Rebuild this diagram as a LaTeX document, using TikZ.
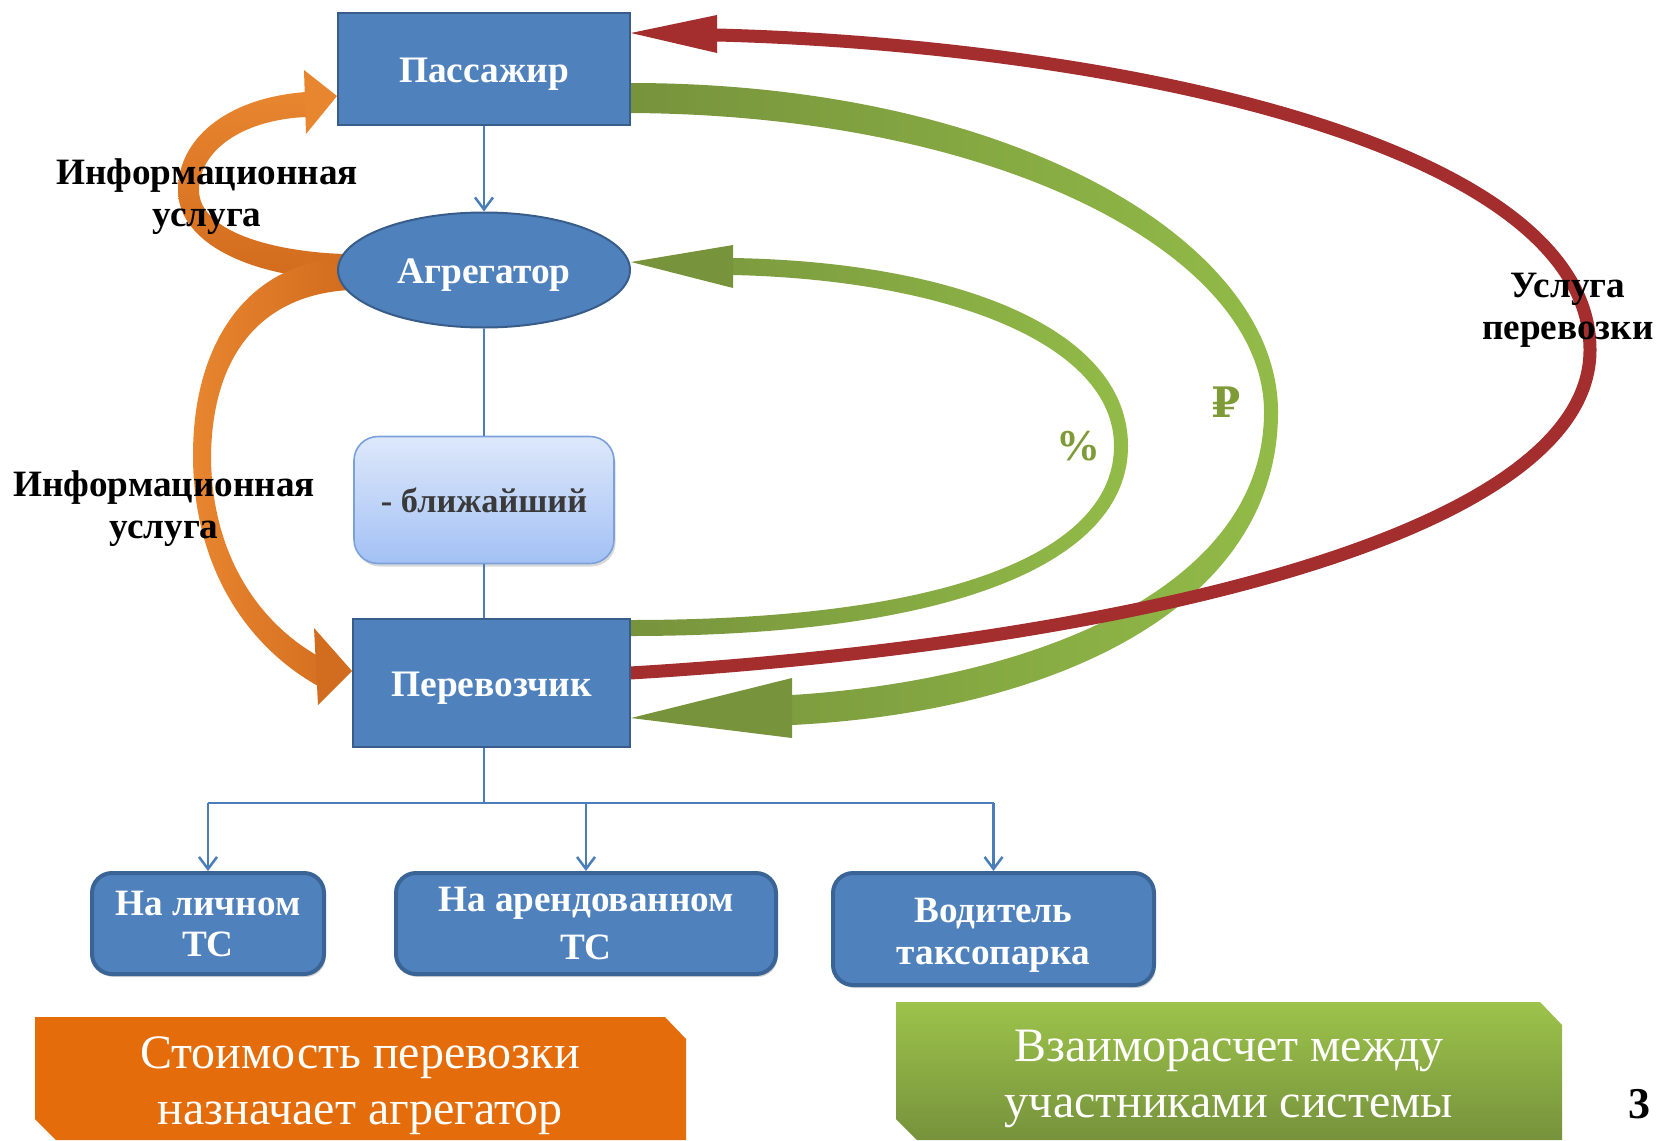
\documentclass[tikz,border=0pt]{standalone}
\usepackage{fontspec}
\setmainfont{Liberation Serif}
\newfontfamily\symfont{DejaVu Serif}
\usetikzlibrary{arrows.meta,shapes.geometric,shadows}
\pgfdeclarelayer{bg}
\pgfsetlayers{bg,main}
\definecolor{boxblue}{HTML}{4F81BD}
\definecolor{boxedge}{HTML}{385D8A}
\definecolor{leafedge}{HTML}{3A6496}
\definecolor{linkblue}{HTML}{4A7EBB}
\definecolor{arrred}{HTML}{A42D2D}
\definecolor{grdark}{HTML}{77933C}
\definecolor{grlight}{HTML}{92BB48}
\definecolor{orlight}{HTML}{E8852F}
\definecolor{ordark}{HTML}{D26C1E}
\definecolor{banorange}{HTML}{E46C0A}
\definecolor{bangrtop}{HTML}{9DC34B}
\definecolor{bangrbot}{HTML}{76923C}
\definecolor{lbtop}{HTML}{DDE8FA}
\definecolor{lbbot}{HTML}{A3C1F5}
\definecolor{lbedge}{HTML}{7BA0DA}
\definecolor{symgreen}{HTML}{7E9B38}
\definecolor{neartext}{HTML}{3A3A3A}
\tikzset{
  mainbox/.style={draw=boxedge, line width=1pt, fill=boxblue, text=white,
    font=\fontsize{18.7}{21}\selectfont\bfseries, inner sep=0pt, align=center,
    text height=13.2pt, text depth=0pt},
  ellbox/.style={mainbox, ellipse},
  nearbox/.style={draw=lbedge, line width=0.8pt, top color=lbtop, bottom color=lbbot,
    rounded corners=12pt, text=neartext, font=\fontsize{17.2}{20}\selectfont\bfseries,
    inner sep=0pt, drop shadow={shadow xshift=0.8pt, shadow yshift=-1.5pt, opacity=0.3}},
  leafbox/.style={draw=leafedge, line width=2pt, fill=boxblue, rounded corners=10pt,
    text=white, inner sep=0pt, align=center,
    drop shadow={shadow xshift=0.8pt, shadow yshift=-1.5pt, opacity=0.35}},
  link/.style={draw=linkblue, line width=1.25pt},
  linkarrow/.style={link, -{Straight Barb[length=6pt,width=9pt]}},
  lab/.style={font=\fontsize{18.6}{21}\selectfont\bfseries, align=center, inner sep=0pt},
  bantext/.style={text=white, font=\fontsize{24}{28}\selectfont, align=center, inner sep=0pt},
  sym/.style={text=symgreen, inner sep=0pt},
  redband/.style={draw=arrred, line width=6.5pt},
}
\begin{document}
\begin{tikzpicture}[x=0.5pt,y=-0.5pt]
\useasboundingbox (0,0) rectangle (1657,1140);

% main nodes
\node[mainbox, minimum width=146pt, minimum height=56pt] (pas) at (484,69) {Пассажир};
\node[ellbox, minimum width=146pt, minimum height=57.5pt] (agg) at (484,270) {Агрегатор};
\node[nearbox, minimum width=130pt, minimum height=63.5pt] (near) at (484,500) {- ближайший};
\node[mainbox, minimum width=138.5pt, minimum height=64pt] (car) at (491.5,683) {Перевозчик};

% leaf boxes
\node[leafbox, minimum width=116pt, minimum height=50.5pt,
  font=\fontsize{18.6}{20.5}\selectfont\bfseries] (b1) at (208,923.5) {На личном\\ТС};
\node[leafbox, minimum width=190pt, minimum height=50.5pt,
  font=\fontsize{18.6}{24}\selectfont\bfseries] (b2) at (586,923.5) {На арендованном\\ТС};
\node[leafbox, minimum width=160.5pt, minimum height=56pt,
  font=\fontsize{18.6}{21}\selectfont\bfseries] (b3) at (993.5,929) {\rule{0pt}{18.5pt}Водитель\\таксопарка};

% connectors
\coordinate (bus) at (484,803);
\draw[linkarrow] (pas.south) -- (agg.north);
\draw[link] (agg.south) -- (near.north);
\draw[link] (near.south) -- (near.south |- car.north);
\draw[link] (near.south |- car.south) -- (bus);
\draw[link] (b1.north |- bus) -- (b3.north |- bus);
\draw[linkarrow] (b1.north |- bus) -- (b1.north);
\draw[linkarrow] (b2.north |- bus) -- (b2.north);
\draw[linkarrow] (b3.north |- bus) -- (b3.north);

% labels
\node[lab] (lab1) at (207,197) {Информационная\\услуга};
\node[lab] (lab2) at (164,509) {Информационная\\услуга};
\node[lab] (lab3) at (1568,310) {Услуга\\перевозки};
\node[sym, font=\fontsize{22}{24}\selectfont\bfseries] (pct) at (1078,446) {\%};
\node[sym, font=\fontsize{21}{24}\selectfont\bfseries\symfont] (rub) at (1226,402) {₽};
\node[font=\fontsize{22}{24}\selectfont\bfseries, inner sep=0pt] (pg) at (1639,1104) {3};

% curved block arrows (behind nodes)
\begin{pgfonlayer}{bg}
  % orange upper: Агрегатор -> Пассажир
  \shade[top color=orlight, bottom color=ordark]
    (306,92) .. controls (225,98) and (178,140) .. (178,190)
    .. controls (178,245) and (255,278) .. (345,280)
    -- (345,254) .. controls (275,252) and (199,232) .. (199,190)
    .. controls (199,152) and (240,120) .. (306,117) -- cycle;
  \fill[orlight] (pas.west |- 0,96) -- (304,70) -- (306,134) -- cycle;
  % orange lower: Агрегатор -> Перевозчик
  \shade[left color=orlight, right color=ordark]
    (345,258) .. controls (250,262) and (193,340) .. (193,455)
    .. controls (193,565) and (245,645) .. (318,686)
    -- (318,656) .. controls (255,620) and (211,550) .. (211,455)
    .. controls (213,345) and (270,294) .. (350,290) -- cycle;
  \fill[ordark] (car.west |- 0,671) -- (314,628) -- (318,705) -- cycle;
  % small green: Перевозчик -> Агрегатор (%)
  \shade[left color=grdark, right color=grlight]
    (630,636) .. controls (960,636) and (1128,560) .. (1128,446)
    .. controls (1128,330) and (960,262) .. (733,258)
    -- (733,275) .. controls (950,280) and (1114,345) .. (1114,446)
    .. controls (1114,548) and (960,620) .. (630,620) -- cycle;
  \fill[grdark] (agg.east |- 0,262) -- (733,245) -- (733,288) -- cycle;
  % big green: Пассажир -> Перевозчик (₽)
  \shade[left color=grdark, right color=grlight]
    (630,83) .. controls (1010,83) and (1278,240) .. (1278,412)
    .. controls (1278,610) and (1050,712) .. (792,725)
    -- (792,695) .. controls (1030,680) and (1264,590) .. (1264,412)
    .. controls (1264,255) and (1000,115) .. (630,113) -- cycle;
  \fill[grdark] (car.east |- 0,718) -- (792,678) -- (792,738) -- cycle;
  % red: Перевозчик -> Пассажир
  \draw[redband] (630,673) .. controls (1100,645) and (1590,540) .. (1590,350)
    .. controls (1590,140) and (1100,45) .. (717,35);
  \fill[arrred] (pas.east |- 0,33) -- (717,15) -- (717,53) -- cycle;
\end{pgfonlayer}

% bottom banners
\fill[banorange] (35,1017) -- (665,1017) -- (686,1039) -- (686,1140) -- (56,1140) -- (35,1119) -- cycle;
\shade[top color=bangrtop, bottom color=bangrbot] (896,1002) -- (1540,1002) -- (1562,1025) -- (1562,1140) -- (917,1140) -- (896,1119) -- cycle;
\node[bantext] (ban1) at (360,1086) {Стоимость перевозки\\назначает агрегатор};
\node[bantext] (ban2) at (1229,1079) {Взаиморасчет между\\участниками системы};
\end{tikzpicture}
\end{document}
